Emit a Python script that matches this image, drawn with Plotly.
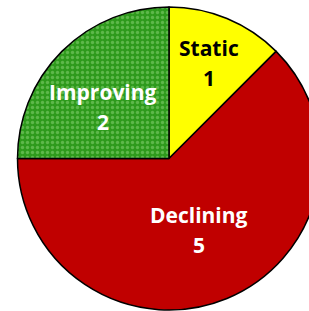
import math
import plotly.graph_objects as go

labels = ["Static", "Declining", "Improving"]
values = [1, 5, 2]
colors = ["#FFFF00", "#C00000", "#2E9A1C"]
text_colors = ["#000000", "#FFFFFF", "#FFFFFF"]
label_radius = [0.685, 0.51, 0.57]  # fraction of pie radius for label centres
label_nudge = [(0, 0), (0, 0), (-5, 10)]  # small pixel nudges (right, down)

W, H = 321, 311
dom_x = [17 / W, 1]
dom_y = [1 / H, 304 / H]

fig = go.Figure(go.Pie(
    labels=labels,
    values=values,
    sort=False,
    direction="clockwise",
    rotation=0,
    textinfo="none",
    marker=dict(
        colors=colors,
        line=dict(color="#000000", width=1.5),
        pattern=dict(
            shape=["", "", "."],
            fgcolor=["#FFFF00", "#C00000", "#8ED67A"],
            bgcolor=colors,
            fillmode="overlay",
            size=5,
            solidity=0.35,
        ),
    ),
    hoverinfo="skip",
    showlegend=False,
    domain=dict(x=dom_x, y=dom_y),
))

# label placement derived from the pie geometry and the data
cx = (dom_x[0] + dom_x[1]) / 2 * W
cy = H - (dom_y[0] + dom_y[1]) / 2 * H
R = min((dom_x[1] - dom_x[0]) * W, (dom_y[1] - dom_y[0]) * H) / 2
total = sum(values)
cum = 0
for lab, val, col, rf, (ndx, ndy) in zip(labels, values, text_colors,
                                         label_radius, label_nudge):
    mid = (cum + val / 2) / total * 2 * math.pi
    cum += val
    px = cx + rf * R * math.sin(mid) + ndx
    py = cy - rf * R * math.cos(mid) + ndy
    for txt, shift in ((lab, 15), (str(val), -15)):
        fig.add_annotation(
            x=px / W, y=1 - py / H, xref="paper", yref="paper",
            text="<b>" + txt + "</b>", showarrow=False, yshift=shift,
            font=dict(family="Open Sans", size=21, color=col),
            xanchor="center", yanchor="middle",
        )

fig.update_layout(
    width=W,
    height=H,
    margin=dict(l=0, r=0, t=0, b=0),
    paper_bgcolor="#FFFFFF",
    plot_bgcolor="#FFFFFF",
)

fig.write_html(
    "out.html",
    config={"displayModeBar": False},
    post_script="document.body.style.margin='0';document.body.style.overflow='hidden';",
)
